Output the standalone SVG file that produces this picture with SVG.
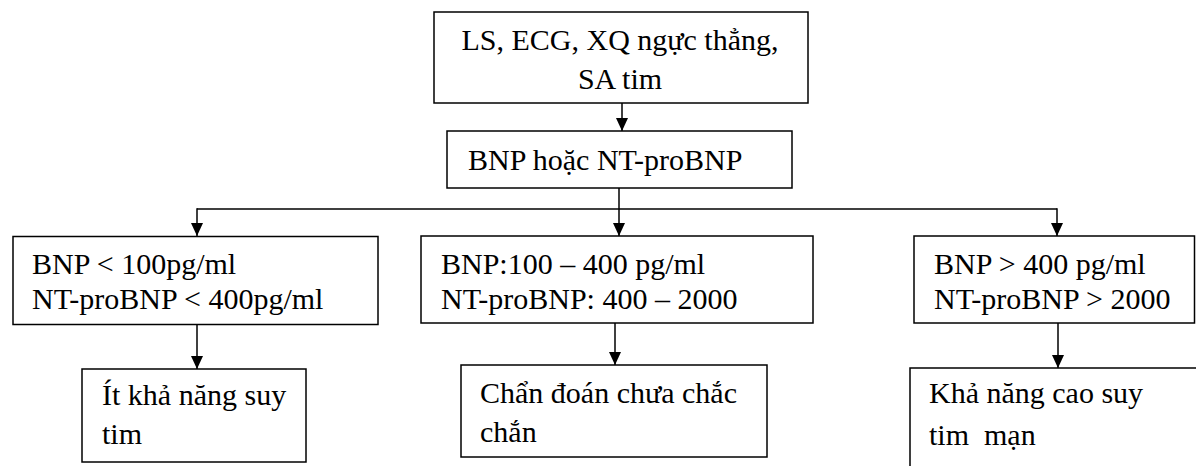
<svg xmlns="http://www.w3.org/2000/svg" width="1196" height="466" viewBox="0 0 1196 466">
<style>
.box{fill:#fff;stroke:#000;stroke-width:1.5}
.t{font-family:"Liberation Serif","Times New Roman","DejaVu Serif",serif;font-size:30px;fill:#000}
.pre{white-space:pre}
.c{fill:none;stroke:#000;stroke-width:1.5}
</style>
<defs>
<marker id="ah" viewBox="0 0 13 12" refX="13" refY="6" markerWidth="13" markerHeight="12" markerUnits="userSpaceOnUse" orient="auto">
<path d="M0,0 L13,6 L0,12 z" fill="#000"/>
</marker>
</defs>
<rect width="1196" height="466" fill="#fff"/>
<g id="connectors">
<line class="c" x1="622" y1="103" x2="622" y2="131" marker-end="url(#ah)"/>
<line class="c" x1="619" y1="188" x2="619" y2="209"/>
<line class="c" x1="197" y1="209" x2="1057" y2="209"/>
<line class="c" x1="197" y1="208.25" x2="197" y2="236" marker-end="url(#ah)"/>
<line class="c" x1="619" y1="209" x2="619" y2="236" marker-end="url(#ah)"/>
<line class="c" x1="1057" y1="208.25" x2="1057" y2="236" marker-end="url(#ah)"/>
<line class="c" x1="197" y1="325" x2="197" y2="369" marker-end="url(#ah)"/>
<line class="c" x1="615" y1="323" x2="615" y2="365" marker-end="url(#ah)"/>
<line class="c" x1="1058" y1="323" x2="1058" y2="368" marker-end="url(#ah)"/>
</g>
<g id="n-top">
<rect class="box" x="434" y="12" width="374" height="91"/>
<text class="t" x="620" y="50" text-anchor="middle">LS, ECG, XQ ngực thẳng,</text>
<text class="t" x="620" y="88.5" text-anchor="middle">SA tim</text>
</g>
<g id="n-bnp">
<rect class="box" x="447" y="131" width="345" height="57"/>
<text class="t" x="468" y="170">BNP hoặc NT-proBNP</text>
</g>
<g id="n-low">
<rect class="box" x="13" y="236.5" width="365" height="88"/>
<text class="t" x="32" y="274">BNP &lt; 100pg/ml</text>
<text class="t" x="32" y="308.5">NT-proBNP &lt; 400pg/ml</text>
</g>
<g id="n-mid">
<rect class="box" x="421" y="236" width="392" height="87"/>
<text class="t" x="441" y="274">BNP:100 – 400 pg/ml</text>
<text class="t" x="441" y="308.5">NT-proBNP: 400 – 2000</text>
</g>
<g id="n-high">
<rect class="box" x="914" y="236" width="280.5" height="87"/>
<text class="t" x="934" y="274">BNP &gt; 400 pg/ml</text>
<text class="t" x="934" y="308.5">NT-proBNP &gt; 2000</text>
</g>
<g id="n-res-low">
<rect class="box" x="82" y="369" width="224" height="93"/>
<text class="t" x="102" y="405">Ít khả năng suy</text>
<text class="t" x="102" y="444">tim</text>
</g>
<g id="n-res-mid">
<rect class="box" x="461" y="365" width="306" height="92"/>
<text class="t" x="480" y="403">Chẩn đoán chưa chắc</text>
<text class="t" x="480" y="442">chắn</text>
</g>
<g id="n-res-high">
<rect class="box" x="910" y="368" width="300" height="120"/>
<text class="t" x="929" y="403">Khả năng cao suy</text>
<text class="t pre" x="929" y="445" xml:space="preserve">tim  mạn</text>
</g>
</svg>
